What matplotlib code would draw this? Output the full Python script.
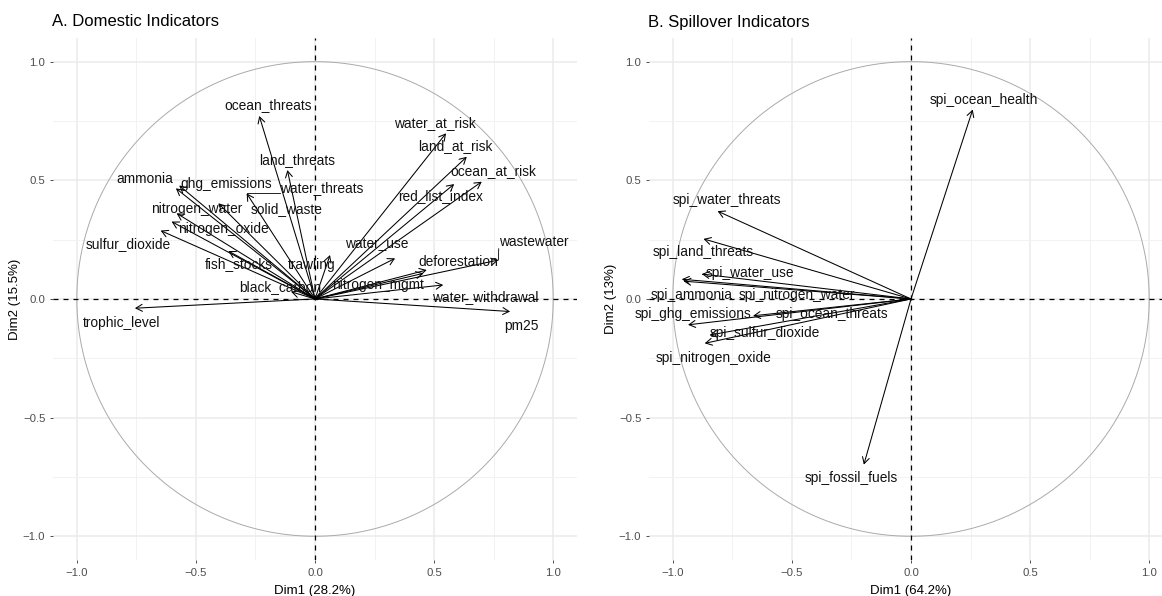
import numpy as np
import matplotlib
matplotlib.use("Agg")
import matplotlib.pyplot as plt

plt.rcParams['font.family'] = ['Liberation Sans', 'DejaVu Sans']

# ---- data: domestic indicators (PCA variable coordinates)
dom_names = ["ocean_threats", "land_threats", "water_threats", "ammonia", "ghg_emissions",
             "nitrogen_water", "solid_waste", "nitrogen_oxide", "sulfur_dioxide", "fish_stocks",
             "trawling", "black_carbon", "trophic_level", "water_at_risk", "land_at_risk",
             "ocean_at_risk", "red_list_index", "water_use", "wastewater", "deforestation",
             "nitrogen_mgmt", "water_withdrawal", "pm25"]
dom_dim1 = [-0.234, -0.116, -0.287, -0.584, -0.570, -0.581, -0.406, -0.602, -0.648, -0.364,
            0.063, -0.100, -0.756, 0.550, 0.637, 0.700, 0.584, 0.336, 0.770, 0.469,
            0.538, 0.455, 0.819]
dom_dim2 = [0.771, 0.543, 0.445, 0.466, 0.478, 0.361, 0.403, 0.326, 0.288, 0.202,
            0.185, 0.030, -0.039, 0.698, 0.599, 0.494, 0.484, 0.171, 0.164, 0.122,
            0.059, 0.108, -0.053]

# ---- data: spillover indicators
spi_names = ["spi_ocean_health", "spi_water_threats", "spi_land_threats", "spi_water_use",
             "spi_ammonia", "spi_nitrogen_water", "spi_ghg_emissions", "spi_ocean_threats",
             "spi_sulfur_dioxide", "spi_nitrogen_oxide", "spi_fossil_fuels"]
spi_dim1 = [0.259, -0.812, -0.871, -0.878, -0.962, -0.955, -0.936, -0.663, -0.845, -0.866, -0.198]
spi_dim2 = [0.798, 0.370, 0.253, 0.105, 0.083, 0.075, -0.109, -0.071, -0.152, -0.187, -0.698]

# label placement (offset from arrow tip, data units) -- repel-like layout
dom_offsets = {
    "ocean_threats": (0.038, 0.046), "land_threats": (0.039, 0.042),
    "water_threats": (0.316, 0.022), "ammonia": (-0.13, 0.038),
    "ghg_emissions": (0.199, 0.006), "nitrogen_water": (0.084, 0.017),
    "solid_waste": (0.287, -0.025), "nitrogen_oxide": (0.217, -0.033),
    "sulfur_dioxide": (-0.136, -0.056), "fish_stocks": (0.042, -0.055),
    "trawling": (-0.077, -0.042), "black_carbon": (-0.047, 0.019),
    "trophic_level": (-0.055, -0.062), "water_at_risk": (-0.046, 0.044),
    "land_at_risk": (-0.049, 0.045), "ocean_at_risk": (0.047, 0.046),
    "red_list_index": (-0.056, -0.05), "water_use": (-0.077, 0.061),
    "wastewater": (0.147, 0.077), "deforestation": (0.133, 0.035),
    "nitrogen_mgmt": (-0.273, 0.0), "water_withdrawal": (0.259, -0.101),
    "pm25": (0.049, -0.061),
}
spi_offsets = {
    "spi_ocean_health": (0.047, 0.039), "spi_water_threats": (0.039, 0.046),
    "spi_land_threats": (0.0, -0.057), "spi_water_use": (0.203, 0.006),
    "spi_ammonia": (0.042, -0.066), "spi_nitrogen_water": (0.474, -0.058),
    "spi_ghg_emissions": (0.021, 0.046), "spi_ocean_threats": (0.33, 0.008),
    "spi_sulfur_dioxide": (0.232, 0.007), "spi_nitrogen_oxide": (0.035, -0.063),
    "spi_fossil_fuels": (-0.052, -0.056),
}
connectors = ["water_threats", "wastewater", "spi_water_use"]

fig = plt.figure(figsize=(11.62, 5.96), dpi=100)
ax1 = fig.add_axes([0.0456, 0.0604, 0.451, 0.876])
ax2 = fig.add_axes([0.5585, 0.0604, 0.451, 0.876])


def draw_panel(ax, names, d1, d2, offsets, xlab, ylab):
    ax.set_xlim(-1.1, 1.1)
    ax.set_ylim(-1.1, 1.1)
    ax.set_xticks([-1.0, -0.5, 0.0, 0.5, 1.0])
    ax.set_yticks([-1.0, -0.5, 0.0, 0.5, 1.0])
    ax.set_xticks([-0.75, -0.25, 0.25, 0.75], minor=True)
    ax.set_yticks([-0.75, -0.25, 0.25, 0.75], minor=True)
    ax.grid(which='major', color='#EBEBEB', lw=1.1)
    ax.grid(which='minor', color='#F2F2F2', lw=0.7)
    ax.set_axisbelow(True)
    for s in ax.spines.values():
        s.set_visible(False)
    ax.tick_params(which='major', length=2.5, width=0.6, color='#333333',
                   labelsize=8.2, labelcolor='#4D4D4D', pad=3)
    ax.tick_params(which='minor', length=0)
    ax.set_xlabel(xlab, fontsize=9.5, labelpad=5)
    ax.set_ylabel(ylab, fontsize=9.5, labelpad=1)

    t = np.linspace(0, 2 * np.pi, 400)
    ax.plot(np.cos(t), np.sin(t), color='#AAAAAA', lw=0.7, zorder=1)
    ax.axhline(0, color='black', lw=0.9, ls=(0, (4, 4)), zorder=2)
    ax.axvline(0, color='black', lw=0.9, ls=(0, (4, 4)), zorder=2)

    texts = {}
    for n, x, y in zip(names, d1, d2):
        ax.annotate('', xy=(x, y), xytext=(0, 0),
                    arrowprops=dict(arrowstyle='->,head_length=0.45,head_width=0.25',
                                    lw=0.75, color='black', shrinkA=0, shrinkB=0,
                                    mutation_scale=10), zorder=3)
        dx, dy = offsets[n]
        texts[n] = ax.text(x + dx, y + dy, n, fontsize=9.9, ha='center', va='center',
                           color='#111111', zorder=4)
    return texts


tx1 = draw_panel(ax1, dom_names, dom_dim1, dom_dim2, dom_offsets, "Dim1 (28.2%)", "Dim2 (15.5%)")
tx2 = draw_panel(ax2, spi_names, spi_dim1, spi_dim2, spi_offsets, "Dim1 (64.2%)", "Dim2 (13%)")

# repel-style connector segments from tip to nearest label edge
fig.canvas.draw()
r = fig.canvas.get_renderer()
for ax, texts, names, d1, d2 in [(ax1, tx1, dom_names, dom_dim1, dom_dim2),
                                  (ax2, tx2, spi_names, spi_dim1, spi_dim2)]:
    inv = ax.transData.inverted()
    for n, x, y in zip(names, d1, d2):
        if n not in connectors:
            continue
        bb = texts[n].get_window_extent(r)
        (x0, y0), (x1, y1) = inv.transform([[bb.x0, bb.y0], [bb.x1, bb.y1]])
        cx = min(max(x, x0), x1)
        cy = min(max(y, y0), y1)
        ax.plot([x, cx], [y, cy], color='black', lw=0.6, zorder=3)

fig.text(52 / 1162, 1 - 22 / 596, "A. Domestic Indicators", fontsize=12, ha='left', va='center')
fig.text(648 / 1162, 1 - 22 / 596, "B. Spillover Indicators", fontsize=12, ha='left', va='center')

fig.savefig("out.png", dpi=100)
